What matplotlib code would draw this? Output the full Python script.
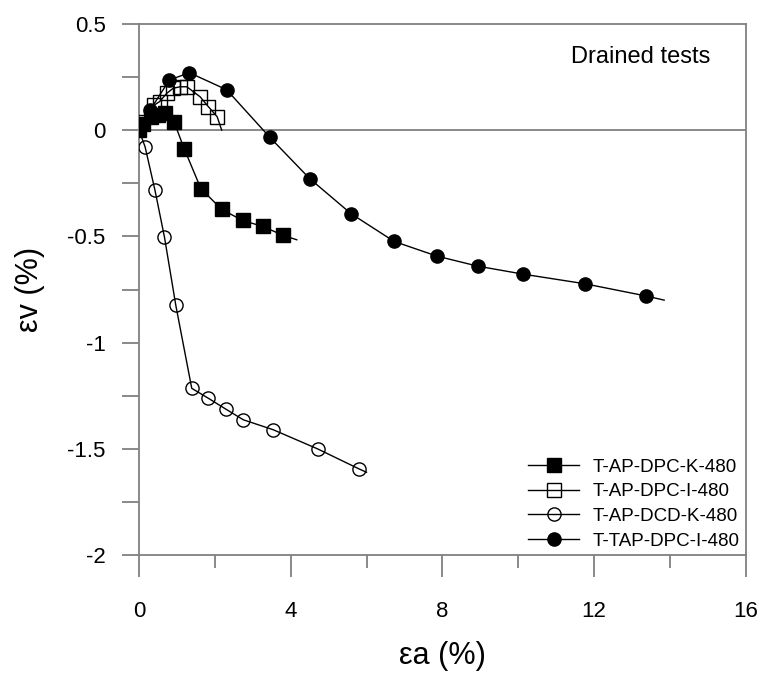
import matplotlib
matplotlib.use('Agg')
import matplotlib.pyplot as plt
from matplotlib.ticker import MultipleLocator

plt.rcParams['font.family'] = ['Liberation Sans', 'DejaVu Sans']

# T-AP-DPC-K-480 (filled squares)
x_k = [0.0, 0.11, 0.31, 0.51, 0.69, 0.92, 1.19, 1.63, 2.18, 2.73, 3.26, 3.80, 4.16]
y_k = [0.0, 0.03, 0.063, 0.07, 0.079, 0.04, -0.087, -0.275, -0.373, -0.425, -0.453, -0.495, -0.516]
mk_k = list(range(12))

# T-AP-DPC-I-480 (open squares)
x_i = [0.0, 0.07, 0.40, 0.54, 0.73, 0.90, 1.08, 1.26, 1.61, 1.83, 2.06, 2.18]
y_i = [0.0, 0.04, 0.118, 0.134, 0.173, 0.197, 0.204, 0.204, 0.157, 0.11, 0.063, 0.0]
mk_i = list(range(1, 11))

# T-AP-DCD-K-480 (open circles)
x_d = [0.0, 0.16, 0.42, 0.67, 0.97, 1.39, 1.83, 2.29, 2.75, 3.54, 4.71, 5.80, 6.0]
y_d = [0.0, -0.079, -0.283, -0.503, -0.825, -1.215, -1.262, -1.313, -1.363, -1.41, -1.50, -1.594, -1.61]
mk_d = list(range(1, 12))

# T-TAP-DPC-I-480 (filled circles)
x_t = [0.0, 0.29, 0.80, 1.33, 2.31, 3.45, 4.50, 5.59, 6.73, 7.86, 8.93, 10.14, 11.76, 13.36, 13.85]
y_t = [0.0, 0.094, 0.236, 0.27, 0.19, -0.034, -0.228, -0.393, -0.524, -0.593, -0.64, -0.678, -0.723, -0.78, -0.80]
mk_t = list(range(1, 14))

gray = '#808080'
ms = 9.5

fig = plt.figure(figsize=(7.64, 6.82), dpi=100)
ax = fig.add_axes([0.182, 0.186, 0.794, 0.779])

ax.axhline(0, color=gray, lw=1.3, zorder=1)

ax.plot(x_k, y_k, color='black', lw=1, marker='s', ms=ms, mfc='black', mec='black',
        markevery=mk_k, label='T-AP-DPC-K-480', zorder=3)
ax.plot(x_i, y_i, color='black', lw=1, marker='s', ms=ms, mfc='none', mec='black',
        markevery=mk_i, label='T-AP-DPC-I-480', zorder=3)
ax.plot(x_d, y_d, color='black', lw=1, marker='o', ms=ms, mfc='none', mec='black',
        markevery=mk_d, label='T-AP-DCD-K-480', zorder=3)
ax.plot(x_t, y_t, color='black', lw=1, marker='o', ms=ms, mfc='black', mec='black',
        markevery=mk_t, label='T-TAP-DPC-I-480', zorder=3)

ax.set_xlim(0, 16)
ax.set_ylim(-2, 0.5)
ax.xaxis.set_major_locator(MultipleLocator(4))
ax.xaxis.set_minor_locator(MultipleLocator(2))
ax.yaxis.set_minor_locator(MultipleLocator(0.25))
ax.set_yticks([0.5, 0, -0.5, -1, -1.5, -2])
ax.set_yticklabels(['0.5', '0', '-0.5', '-1', '-1.5', '-2'])

for s in ax.spines.values():
    s.set_color(gray)
    s.set_linewidth(1.3)

ax.tick_params(axis='x', which='major', direction='out', length=16, width=1.3, color=gray,
               labelsize=16, pad=17)
ax.tick_params(axis='x', which='minor', direction='out', length=9, width=1.3, color=gray)
ax.tick_params(axis='y', which='both', direction='out', length=12, width=1.3, color=gray,
               labelsize=16, pad=12)

ax.set_xlabel('εa (%)', fontsize=22, labelpad=14)
ax.set_ylabel('εv (%)', fontsize=22, labelpad=16)

ax.text(0.942, 0.938, 'Drained tests', transform=ax.transAxes, fontsize=17,
        ha='right', va='center')

ax.legend(loc='lower right', bbox_to_anchor=(1.0, 0.0), frameon=False, fontsize=13.5,
          handlelength=2.7, handletextpad=0.75, labelspacing=0.4, borderaxespad=0.1,
          borderpad=0.2)

fig.savefig('out.png', dpi=100)
